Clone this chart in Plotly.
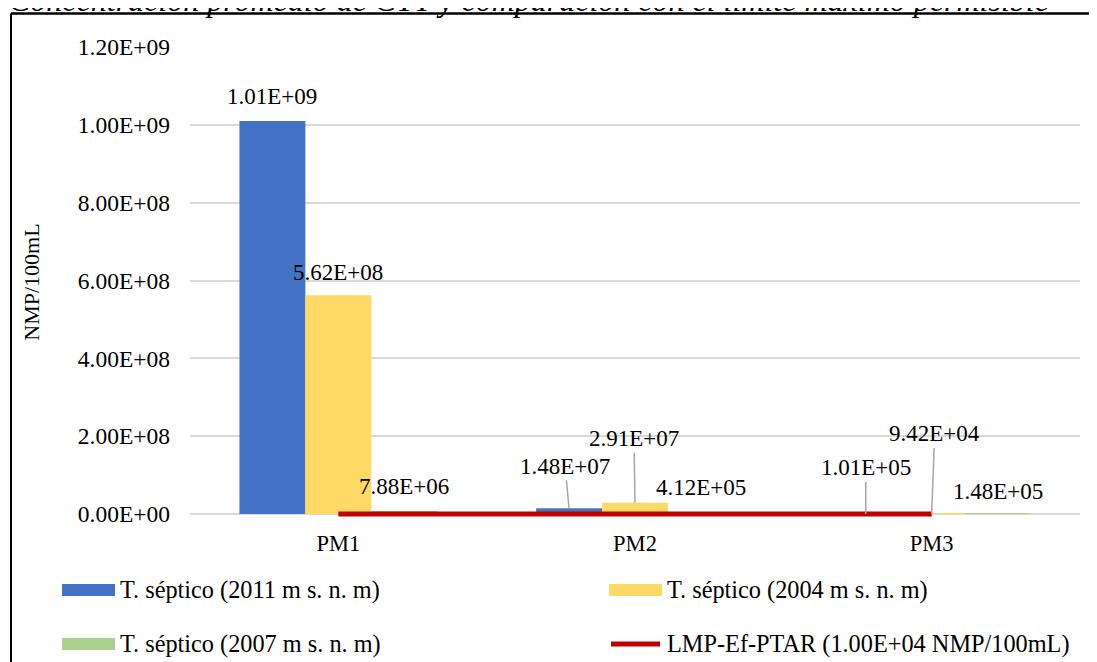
import plotly.graph_objects as go

# ---------------- data ----------------
categories = ["PM1", "PM2", "PM3"]
series_names = [
    "T. séptico (2011 m s. n. m)",
    "T. séptico (2004 m s. n. m)",
    "T. séptico (2007 m s. n. m)",
]
s2011 = [1.01e9, 1.48e7, 1.01e5]
s2004 = [5.62e8, 2.91e7, 9.42e4]
s2007 = [7.88e6, 4.12e5, 1.48e5]
lmp_name = "LMP-Ef-PTAR (1.00E+04 NMP/100mL)"
lmp_values = [1.0e4, 1.0e4, 1.0e4]
label_2011 = ["1.01E+09", "1.48E+07", "1.01E+05"]
label_2004 = ["5.62E+08", "2.91E+07", "9.42E+04"]
label_2007 = ["7.88E+06", "4.12E+05", "1.48E+05"]
y_tickvals = [0, 2e8, 4e8, 6e8, 8e8, 1.0e9, 1.2e9]
y_ticktext = ["0.00E+00", "2.00E+08", "4.00E+08", "6.00E+08",
              "8.00E+08", "1.00E+09", "1.20E+09"]
title_text = "Concentración promedio de CTT y comparación con el límite máximo permisible"
y_title = "NMP/100mL"

colors = ["#4472C4", "#FFD966", "#A9D18E"]
red = "#C00000"
FONT = "Liberation Serif"
FS_TICK = 23.5
FS_LAB = 23
FS_LEG = 24.3
FS_XT = 22.5
FS_YT = 22

OFF = 8  # page body margin
W, H = 1097, 662
YMAX = 1.2e9
TOP_PX, ZERO_PX = 47, 514          # screen pixels of YMAX and 0
PAD_PX = 3                          # room below zero so the thick limit line is not clipped
YMIN = -PAD_PX * YMAX / (ZERO_PX - TOP_PX)
BOT_PX = ZERO_PX + PAD_PX
ML = 190 - OFF
MT = TOP_PX - OFF
MR = W - (1080 - OFF)
MB = H - (BOT_PX - OFF)
PW, PH = W - ML - MR, H - MT - MB
BARGAP = 1 / 3
BW = (1 - BARGAP) / 3


def px(xs):  # screen pixel -> paper x
    return (xs - OFF - ML) / PW


def py(ys):  # screen pixel -> paper y
    return (H - MB - (ys - OFF)) / PH


fig = go.Figure()
for name, vals, col in zip(series_names, [s2011, s2004, s2007], colors):
    fig.add_trace(go.Bar(x=categories, y=vals, name=name, marker_color=col,
                         marker_line_width=0))
fig.add_trace(go.Scatter(x=categories, y=lmp_values, name=lmp_name, mode="lines",
                         line=dict(color=red, width=5), cliponaxis=False))

annotations = []
label_cfg = [
    (0, label_2011, [None, (-4, -42), (0, -46)], [24, 0, 0]),
    (1, label_2004, [None, (-1, -64), (3, -80)], [23, 0, 0]),
    (2, label_2007, [None, None, None], [24, 26, 22]),
]
all_vals = [s2011, s2004, s2007]
for k, labels, leaders, shifts in label_cfg:
    for i, lab in enumerate(labels):
        xv = i + (k - 1) * BW
        yv = all_vals[k][i]
        if leaders[i] is None:
            annotations.append(dict(x=xv, y=yv, xref="x", yref="y", text=lab,
                                    showarrow=False, yanchor="middle",
                                    yshift=shifts[i],
                                    font=dict(family=FONT, size=FS_LAB, color="#000")))
        else:
            ax, ay = leaders[i]
            annotations.append(dict(x=xv, y=yv, xref="x", yref="y", text=lab,
                                    showarrow=True, arrowhead=0, arrowwidth=1.5,
                                    arrowcolor="#A6A6A6", ax=ax, ay=ay,
                                    standoff=0, startstandoff=0,
                                    font=dict(family=FONT, size=FS_LAB, color="#000")))

# title (clipped at the top like the reference)
annotations.append(dict(x=px(7), y=py(-0.5), xref="paper", yref="paper",
                        text="<i>" + title_text + "</i>", showarrow=False,
                        xanchor="left", yanchor="middle",
                        font=dict(family=FONT, size=32, color="#000")))

# manual legend
shapes = []
leg = [
    (series_names[0], colors[0], 62, 590, "bar"),
    (series_names[1], colors[1], 609, 590, "bar"),
    (series_names[2], colors[2], 62, 644, "bar"),
    (lmp_name, red, 609, 644, "line"),
]
for name, col, x0, yc, kind in leg:
    if kind == "bar":
        shapes.append(dict(type="rect", xref="paper", yref="paper",
                           x0=px(x0), x1=px(x0 + 53), y0=py(yc - 6), y1=py(yc + 6),
                           fillcolor=col, line=dict(width=0)))
    else:
        shapes.append(dict(type="line", xref="paper", yref="paper",
                           x0=px(x0 + 2), x1=px(x0 + 51), y0=py(yc), y1=py(yc),
                           line=dict(color=col, width=5)))
    annotations.append(dict(x=px(x0 + 56), y=py(yc), xref="paper", yref="paper",
                            text=name, showarrow=False, xanchor="left",
                            yanchor="middle",
                            font=dict(family=FONT, size=FS_LEG, color="#000")))

# chart border (top and left edges visible)
shapes.append(dict(type="line", xref="paper", yref="paper", x0=px(11), x1=px(1110),
                   y0=py(13.5), y1=py(13.5), line=dict(color="#000", width=2.5)))
shapes.append(dict(type="line", xref="paper", yref="paper", x0=px(11), x1=px(11),
                   y0=py(13.5), y1=py(680), line=dict(color="#000", width=2)))

fig.update_layout(
    width=W, height=H,
    margin=dict(l=ML, r=MR, t=MT, b=MB, autoexpand=False),
    paper_bgcolor="white", plot_bgcolor="white",
    barmode="group", bargap=BARGAP, bargroupgap=0,
    showlegend=False,
    font=dict(family=FONT, size=FS_TICK, color="#000"),
    annotations=annotations, shapes=shapes,
)
fig.update_yaxes(range=[YMIN, YMAX], tickvals=y_tickvals, ticktext=y_ticktext,
                 showgrid=True, gridcolor="#D9D9D9", gridwidth=1.5,
                 zeroline=True, zerolinecolor="#D9D9D9", zerolinewidth=1.5,
                 showline=False, ticks="", ticklabelstandoff=19,
                 tickfont=dict(family=FONT, size=FS_TICK, color="#000"),
                 title=dict(text=y_title, standoff=32,
                            font=dict(family=FONT, size=FS_YT, color="#000")))
fig.update_xaxes(type="category", showgrid=False, showline=False, ticks="",
                 ticklabelstandoff=10, range=[-0.5, 2.5],
                 tickfont=dict(family=FONT, size=FS_XT, color="#000"))

fig.write_html("out.html")
